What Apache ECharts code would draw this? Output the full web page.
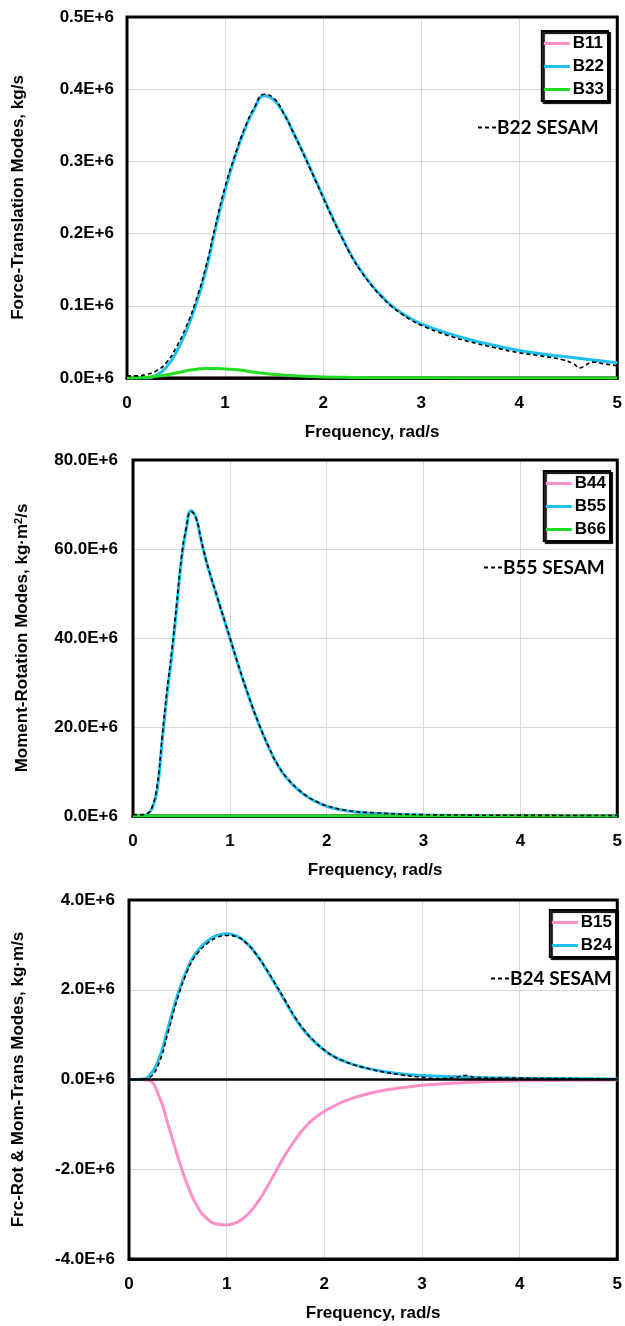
<!DOCTYPE html>
<html>
<head>
<meta charset="utf-8">
<script src="https://cdn.jsdelivr.net/npm/echarts@6/dist/echarts.min.js"></script>
<style>
  html, body { margin: 0; padding: 0; background: #ffffff; }
  #chart { width: 625px; height: 1326px; }
</style>
</head>
<body>
<div id="chart"></div>
<script>
// Frequency axis (rad/s)
const freqMin = 0, freqMax = 5, freqStep = 1;

// ---- Panel 1: force-translation damping, values in 1E+6 kg/s ----
const b11Freq = [0, 1, 2, 3, 4, 5];
const b11Val  = [0, 0, 0, 0, 0, 0];
const b22Freq = [0, 0.1, 0.2, 0.3, 0.4, 0.5, 0.6, 0.7, 0.8, 0.9, 1.0, 1.1, 1.2, 1.3, 1.4, 1.5, 1.6, 1.7, 1.8, 1.9, 2.0, 2.1, 2.2, 2.3, 2.4, 2.5, 2.6, 2.7, 2.8, 2.9, 3.0, 3.25, 3.5, 3.75, 4.0, 4.25, 4.5, 4.75, 5.0];
const b22Val  = [0, 0, 0, 0.004, 0.015, 0.035, 0.064, 0.100, 0.146, 0.205, 0.260, 0.306, 0.344, 0.373, 0.391, 0.385, 0.366, 0.339, 0.311, 0.281, 0.251, 0.221, 0.193, 0.167, 0.146, 0.128, 0.113, 0.100, 0.090, 0.082, 0.075, 0.063, 0.053, 0.045, 0.038, 0.033, 0.029, 0.025, 0.021];
const b33Freq = [0, 0.2, 0.35, 0.5, 0.65, 0.8, 0.9, 1.0, 1.15, 1.3, 1.5, 1.7, 2.0, 2.3, 2.7, 3.0, 4.0, 5.0];
const b33Val  = [0, 0.001, 0.003, 0.007, 0.011, 0.013, 0.013, 0.0125, 0.011, 0.008, 0.005, 0.003, 0.0015, 0.0008, 0.0003, 0.0002, 0.0001, 0.0001];
const b22SesamFreq = [0, 0.1, 0.2, 0.3, 0.4, 0.5, 0.6, 0.7, 0.8, 0.9, 1.0, 1.1, 1.2, 1.3, 1.4, 1.5, 1.6, 1.7, 1.8, 1.9, 2.0, 2.1, 2.2, 2.3, 2.4, 2.5, 2.6, 2.7, 2.8, 2.9, 3.0, 3.25, 3.5, 3.75, 4.0, 4.25, 4.45, 4.55, 4.62, 4.68, 4.75, 4.85, 5.0];
const b22SesamVal  = [0.003, 0.003, 0.005, 0.010, 0.021, 0.042, 0.070, 0.106, 0.152, 0.210, 0.265, 0.308, 0.346, 0.375, 0.393, 0.387, 0.366, 0.339, 0.310, 0.280, 0.250, 0.220, 0.192, 0.166, 0.145, 0.127, 0.112, 0.099, 0.089, 0.080, 0.073, 0.060, 0.050, 0.042, 0.035, 0.030, 0.025, 0.020, 0.014, 0.018, 0.022, 0.020, 0.017];

// ---- Panel 2: moment-rotation damping, values in 1E+6 kg·m²/s ----
const b44Freq = [0, 1, 2, 3, 4, 5];
const b44Val  = [0, 0, 0, 0, 0, 0];
const b55Freq = [0, 0.05, 0.1, 0.15, 0.2, 0.25, 0.3, 0.35, 0.4, 0.45, 0.5, 0.55, 0.6, 0.65, 0.7, 0.75, 0.8, 0.85, 0.9, 0.95, 1.0, 1.1, 1.2, 1.3, 1.4, 1.5, 1.6, 1.7, 1.8, 1.9, 2.0, 2.2, 2.5, 3.0, 3.5, 4.0, 5.0];
const b55Val  = [0, 0.05, 0.1, 0.4, 1.8, 6, 16.5, 27, 36, 46.5, 57.5, 64.5, 68.6, 67, 62.3, 57.8, 54, 50.5, 47, 43.5, 40, 33, 26.5, 20.6, 15.5, 11.2, 8.2, 6.0, 4.3, 3.1, 2.2, 1.2, 0.6, 0.2, 0.1, 0.05, 0.02];
const b66Freq = [0, 1, 2, 3, 4, 5];
const b66Val  = [0, 0, 0, 0, 0, 0];
const b55SesamFreq = [0, 0.05, 0.1, 0.15, 0.2, 0.25, 0.3, 0.35, 0.4, 0.45, 0.5, 0.55, 0.6, 0.65, 0.7, 0.75, 0.8, 0.85, 0.9, 0.95, 1.0, 1.1, 1.2, 1.3, 1.4, 1.5, 1.6, 1.7, 1.8, 1.9, 2.0, 2.2, 2.5, 3.0, 3.5, 4.0, 5.0];
const b55SesamVal  = [0.3, 0.3, 0.3, 0.6, 2.2, 7, 17.5, 28, 37, 47.5, 58, 64.8, 68.4, 67, 62.4, 57.9, 54.1, 50.6, 47.1, 43.6, 40.1, 33.1, 26.6, 20.7, 15.6, 11.3, 8.3, 6.1, 4.4, 3.2, 2.3, 1.3, 0.7, 0.3, 0.2, 0.15, 0.1];

// ---- Panel 3: coupled force-rotation / moment-translation, values in 1E+6 kg·m/s ----
const b15Freq = [0, 0.1, 0.2, 0.3, 0.4, 0.5, 0.6, 0.7, 0.8, 0.9, 1.0, 1.1, 1.2, 1.3, 1.4, 1.5, 1.6, 1.7, 1.8, 1.9, 2.0, 2.1, 2.2, 2.3, 2.4, 2.5, 2.6, 2.7, 2.8, 2.9, 3.0, 3.5, 4.0, 5.0];
const b15Val  = [0, 0, -0.02, -0.33, -1.00, -1.72, -2.36, -2.83, -3.10, -3.22, -3.24, -3.19, -3.04, -2.79, -2.45, -2.06, -1.68, -1.35, -1.07, -0.86, -0.71, -0.59, -0.49, -0.41, -0.345, -0.29, -0.245, -0.21, -0.18, -0.155, -0.13, -0.06, -0.03, -0.01];
const b24Freq = [0, 0.1, 0.15, 0.2, 0.3, 0.4, 0.5, 0.6, 0.65, 0.7, 0.8, 0.9, 1.0, 1.1, 1.2, 1.3, 1.4, 1.5, 1.6, 1.7, 1.8, 1.9, 2.0, 2.1, 2.2, 2.3, 2.4, 2.5, 2.6, 2.8, 3.0, 3.5, 4.0, 5.0];
const b24Val  = [0, 0, 0.01, 0.06, 0.42, 1.15, 1.90, 2.48, 2.70, 2.86, 3.08, 3.21, 3.25, 3.20, 3.05, 2.80, 2.47, 2.11, 1.74, 1.37, 1.07, 0.84, 0.65, 0.51, 0.41, 0.33, 0.27, 0.22, 0.18, 0.12, 0.09, 0.05, 0.03, 0.01];
const b24SesamFreq = [0, 0.1, 0.15, 0.2, 0.3, 0.4, 0.5, 0.6, 0.65, 0.7, 0.8, 0.9, 1.0, 1.1, 1.2, 1.3, 1.4, 1.5, 1.6, 1.7, 1.8, 1.9, 2.0, 2.1, 2.2, 2.3, 2.4, 2.5, 2.6, 2.8, 3.0, 3.2, 3.35, 3.45, 3.55, 3.8, 4.0, 4.5, 5.0];
const b24SesamVal  = [0, 0, 0.01, 0.03, 0.33, 1.05, 1.83, 2.43, 2.65, 2.81, 3.03, 3.16, 3.21, 3.18, 3.04, 2.80, 2.48, 2.13, 1.76, 1.39, 1.09, 0.85, 0.66, 0.51, 0.41, 0.33, 0.27, 0.22, 0.17, 0.10, 0.05, 0.02, 0.05, 0.09, 0.04, 0.03, 0.03, 0.02, 0.01];

// Y-axis ranges per panel (1E+6 units)
const yRanges = [
  { min: 0, max: 0.5, interval: 0.1 },
  { min: 0, max: 80, interval: 20 },
  { min: -4, max: 4, interval: 2 }
];

const FONT = '"Liberation Sans", Arial, sans-serif';
const SESAM_FONT = 'Lato, "Open Sans", sans-serif';
const PINK = '#FF8FC7', CYAN = '#1DBFEF', GREEN = '#22DD22', GRID_GRAY = '#d9d9d9';
const FS = 17;

const zip = (xs, ys) => xs.map((x, i) => [x, ys[i]]);

const grids = [
  { left: 127, top: 17, width: 492, height: 361 },
  { left: 133, top: 460, width: 487, height: 356 },
  { left: 129, top: 900, width: 494, height: 359 }
].map(g => Object.assign(g, { show: true, borderColor: '#000', borderWidth: 3, backgroundColor: 'transparent', z: 1 }));

const labelStyle = { color: '#000', fontFamily: FONT, fontWeight: 'bold', fontSize: FS };

const xAxes = [0, 1, 2].map(i => ({
  gridIndex: i, type: 'value', min: freqMin, max: freqMax, interval: freqStep,
  axisLine: { show: true, onZero: false, lineStyle: { color: '#000', width: 3 } },
  axisTick: { show: false },
  splitLine: { show: true, lineStyle: { color: GRID_GRAY, width: 1 } },
  axisLabel: Object.assign({ margin: 17, formatter: v => String(v) }, labelStyle),
  name: 'Frequency, rad/s', nameLocation: 'middle', nameGap: 46,
  nameTextStyle: Object.assign({}, labelStyle)
}));

const yNames = [
  'Force-Translation Modes, kg/s',
  '{b|Moment-Rotation Modes, kg·m}{sup|2}{b|/s}',
  'Frc-Rot & Mom-Trans Modes, kg·m/s'
];
const yNameGaps = [100, 102, 102];
const yLabelMargins = [13, 15, 14];

const yAxes = [0, 1, 2].map(i => ({
  gridIndex: i, type: 'value',
  min: yRanges[i].min, max: yRanges[i].max, interval: yRanges[i].interval,
  axisLine: { show: false }, axisTick: { show: false },
  splitLine: { show: true, lineStyle: { color: GRID_GRAY, width: 1 } },
  axisLabel: Object.assign({ margin: yLabelMargins[i], formatter: v => v.toFixed(1) + 'E+6' }, labelStyle),
  name: yNames[i], nameLocation: 'middle', nameGap: yNameGaps[i],
  nameTextStyle: Object.assign({}, labelStyle, {
    rich: {
      b: { fontFamily: FONT, fontWeight: 'bold', fontSize: FS, color: '#000' },
      sup: { fontFamily: FONT, fontWeight: 'bold', fontSize: 11, color: '#000', verticalAlign: 'top', padding: [0, 0, 7, 0] }
    }
  })
}));

function solid(name, idx, xs, ys, color, extra) {
  return Object.assign({
    name, type: 'line', xAxisIndex: idx, yAxisIndex: idx,
    data: zip(xs, ys), smooth: 0.5, symbol: 'none',
    lineStyle: { color, width: 3 }, itemStyle: { color }
  }, extra || {});
}
function dashed(name, idx, xs, ys) {
  return {
    name, type: 'line', xAxisIndex: idx, yAxisIndex: idx,
    data: zip(xs, ys), smooth: 0.5, symbol: 'none',
    lineStyle: { color: '#000', width: 1.6, type: [4, 3] }, itemStyle: { color: '#000' }
  };
}

const series = [
  // zero-valued pink traces sit under the plot frame
  solid('B11', 0, b11Freq, b11Val, PINK, { z: 0 }),
  solid('B22', 0, b22Freq, b22Val, CYAN),
  solid('B33', 0, b33Freq, b33Val, GREEN),
  dashed('B22 SESAM', 0, b22SesamFreq, b22SesamVal),

  solid('B44', 1, b44Freq, b44Val, PINK, { z: 0 }),
  solid('B55', 1, b55Freq, b55Val, CYAN),
  solid('B66', 1, b66Freq, b66Val, GREEN),
  dashed('B55 SESAM', 1, b55SesamFreq, b55SesamVal),

  solid('B15', 2, b15Freq, b15Val, PINK, {
    markLine: {
      silent: true, symbol: 'none', label: { show: false },
      lineStyle: { color: '#000', width: 2.5, type: 'solid' },
      data: [{ yAxis: 0 }]
    }
  }),
  solid('B24', 2, b24Freq, b24Val, CYAN),
  dashed('B24 SESAM', 2, b24SesamFreq, b24SesamVal)
];

const LINE_ICON = 'path://M0,0H26V3H0Z';
const DASH_ICON = 'path://M0,0h4v2h-4z M7,0h4v2h-4z M14,0h4v2h-4z';

function boxLegend(names, right, top) {
  return {
    data: names, orient: 'vertical', right, top,
    selectedMode: false, icon: LINE_ICON,
    backgroundColor: '#fff', borderColor: '#000', borderWidth: 2,
    shadowColor: '#000', shadowOffsetX: 2, shadowOffsetY: 2, shadowBlur: 1,
    padding: [4, 4, 3, 2], itemGap: 6, itemWidth: 26, itemHeight: 3,
    textStyle: { color: '#000', fontFamily: FONT, fontWeight: 'bold', fontSize: FS, padding: [0, 0, 0, -2] }
  };
}
function sesamLegend(name, left, top) {
  return {
    data: [name], left, top, selectedMode: false, padding: 0,
    icon: DASH_ICON, itemWidth: 18, itemHeight: 2,
    textStyle: { color: '#000', fontFamily: SESAM_FONT, fontWeight: 'bold', fontSize: 19, padding: [0, 0, 0, -4] }
  };
}

const option = {
  animation: false,
  backgroundColor: '#fff',
  grid: grids,
  xAxis: xAxes,
  yAxis: yAxes,
  legend: [
    boxLegend(['B11', 'B22', 'B33'], 17, 31),
    sesamLegend('B22 SESAM', 478, 118),
    boxLegend(['B44', 'B55', 'B66'], 15, 471),
    sesamLegend('B55 SESAM', 484, 558),
    boxLegend(['B15', 'B24'], 9, 910),
    sesamLegend('B24 SESAM', 491, 969)
  ],
  series
};

const chart = echarts.init(document.getElementById('chart'), null, { renderer: 'canvas' });
chart.setOption(option);
</script>
</body>
</html>
